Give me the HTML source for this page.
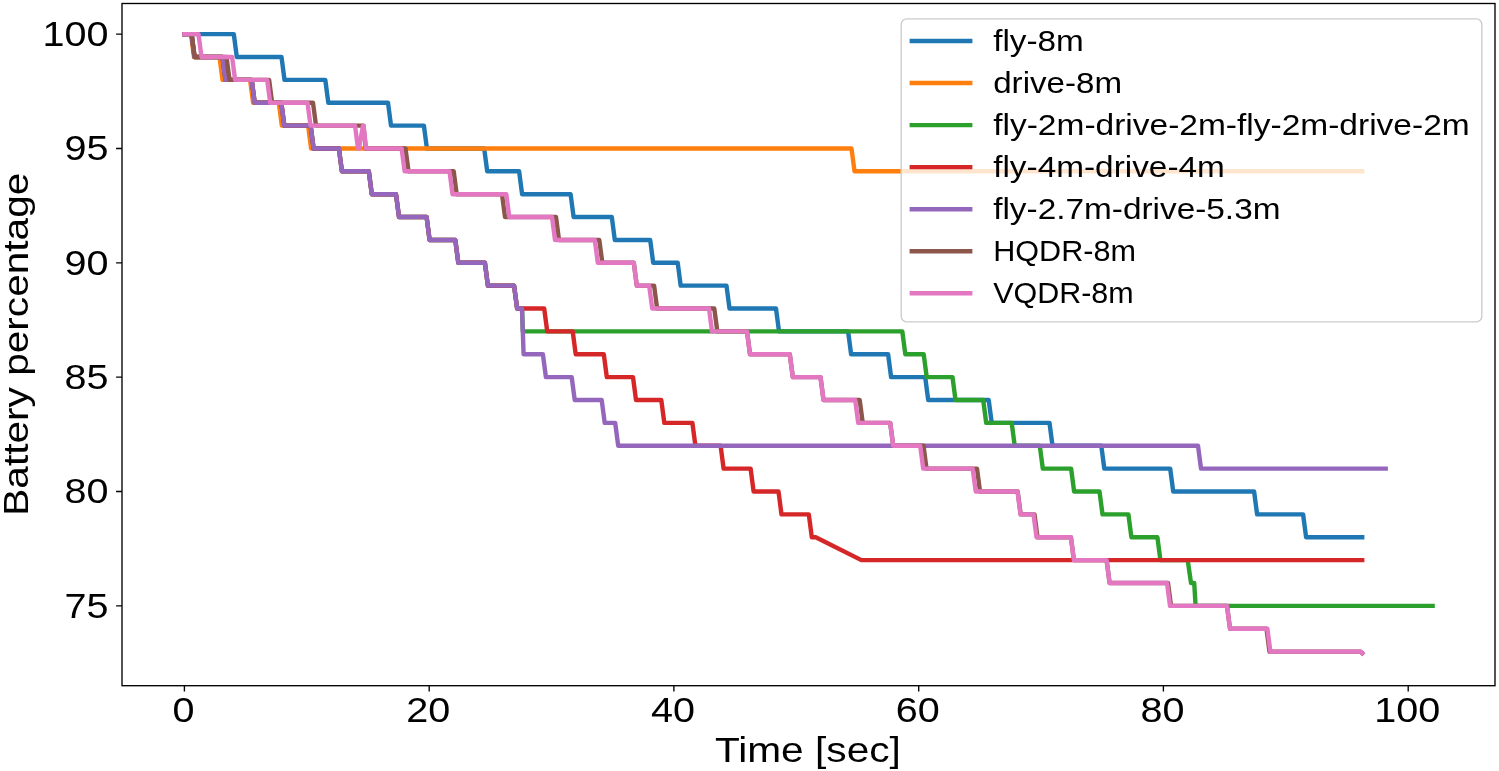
<!DOCTYPE html>
<html><head><meta charset="utf-8"><title>Battery percentage vs time</title>
<style>
html,body{margin:0;padding:0;background:#fff;}
body{width:1499px;height:771px;overflow:hidden;}
svg{display:block;will-change:transform;}
text{font-family:"Liberation Sans",sans-serif;fill:#000;}
</style></head><body>
<svg width="1499" height="771" viewBox="0 0 1499 771">
<defs><clipPath id="ax"><rect x="122.0" y="3.5" width="1373.0" height="682.2"/></clipPath></defs>
<rect x="0" y="0" width="1499" height="771" fill="#fff"/>
<g clip-path="url(#ax)" fill="none" stroke-width="4.40" stroke-linejoin="round" stroke-linecap="square">
<polyline stroke="#1f77b4" points="184.4,34.10 233.8,34.10 236.8,56.97 281.5,56.97 284.5,79.84 325.3,79.84 328.3,102.71 388.0,102.71 391.0,125.58 423.9,125.58 426.9,148.45 484.2,148.45 487.2,171.32 519.1,171.32 522.1,194.19 570.6,194.19 573.6,217.06 611.8,217.06 614.8,239.93 650.2,239.93 653.2,262.80 677.7,262.80 680.7,285.67 726.5,285.67 729.5,308.54 776.0,308.54 779.0,331.41 848.1,331.41 851.1,354.28 888.1,354.28 891.1,377.15 925.2,377.15 928.2,400.02 988.7,400.02 991.7,422.89 1049.5,422.89 1052.5,445.76 1101.3,445.76 1104.3,468.63 1170.2,468.63 1173.2,491.50 1254.1,491.50 1257.1,514.37 1303.1,514.37 1306.1,537.24 1362.2,537.24"/>
<polyline stroke="#ff7f0e" points="184.4,34.10 191.0,34.10 194.0,56.97 219.5,56.97 222.5,79.84 250.1,79.84 253.1,102.71 278.8,102.71 281.8,125.58 308.1,125.58 311.1,148.45 851.5,148.45 854.5,171.32 1362.2,171.32"/>
<polyline stroke="#2ca02c" points="184.4,34.10 191.5,34.10 194.5,56.97 222.5,56.97 225.5,79.84 251.7,79.84 254.7,102.71 281.3,102.71 284.3,125.58 310.6,125.58 313.6,148.45 338.9,148.45 341.9,171.32 368.8,171.32 371.8,194.19 396.0,194.19 399.0,217.06 426.6,217.06 429.6,239.93 455.3,239.93 458.3,262.80 484.9,262.80 487.9,285.67 514.1,285.67 517.1,308.54 522.0,308.54 522.8,331.41 902.3,331.41 905.3,354.28 923.7,354.28 926.7,377.15 952.5,377.15 955.5,400.02 983.2,400.02 986.2,422.89 1011.7,422.89 1014.7,445.76 1039.8,445.76 1042.8,468.63 1071.1,468.63 1074.1,491.50 1099.5,491.50 1102.5,514.37 1128.4,514.37 1131.4,537.24 1157.4,537.24 1160.4,560.11 1187.7,560.11 1191.0,582.98 1194.2,582.98 1195.6,605.85 1432.6,605.85"/>
<polyline stroke="#d62728" points="184.4,34.10 191.5,34.10 194.5,56.97 222.5,56.97 225.5,79.84 251.7,79.84 254.7,102.71 281.3,102.71 284.3,125.58 310.6,125.58 313.6,148.45 338.9,148.45 341.9,171.32 368.8,171.32 371.8,194.19 396.0,194.19 399.0,217.06 426.6,217.06 429.6,239.93 455.3,239.93 458.3,262.80 484.9,262.80 487.9,285.67 514.1,285.67 517.1,308.54 544.2,308.54 547.2,331.41 572.7,331.41 575.7,354.28 603.8,354.28 606.8,377.15 633.0,377.15 636.0,400.02 661.3,400.02 664.3,422.89 692.4,422.89 695.4,445.76 720.6,445.76 723.6,468.63 750.6,468.63 753.6,491.50 778.5,491.50 781.5,514.37 808.8,514.37 811.8,537.24 815.7,537.24 861.4,560.11 1362.2,560.11"/>
<polyline stroke="#9467bd" points="184.4,34.10 191.5,34.10 194.5,56.97 222.5,56.97 225.5,79.84 251.7,79.84 254.7,102.71 281.3,102.71 284.3,125.58 310.6,125.58 313.6,148.45 338.9,148.45 341.9,171.32 368.8,171.32 371.8,194.19 396.0,194.19 399.0,217.06 426.6,217.06 429.6,239.93 455.3,239.93 458.3,262.80 484.9,262.80 487.9,285.67 514.1,285.67 517.1,308.54 522.0,308.54 523.6,354.28 542.9,354.28 545.9,377.15 571.7,377.15 574.7,400.02 601.7,400.02 604.7,422.89 615.2,422.89 618.2,445.76 1198.0,445.76 1201.0,468.63 1385.7,468.63"/>
<polyline stroke="#8c564b" points="184.4,34.10 191.7,34.10 194.7,56.97 226.5,56.97 229.5,79.84 269.1,79.84 272.1,102.71 313.0,102.71 316.0,125.58 363.4,125.58 365.8,148.45 405.5,148.45 408.5,171.32 453.7,171.32 456.7,194.19 502.0,194.19 505.0,217.06 556.0,217.06 559.0,239.93 599.3,239.93 602.3,262.80 633.8,262.80 636.8,285.67 654.1,285.67 657.1,308.54 714.3,308.54 717.3,331.41 747.0,331.41 750.0,354.28 789.8,354.28 792.8,377.15 820.5,377.15 823.5,400.02 859.7,400.02 862.7,422.89 890.2,422.89 893.2,445.76 923.5,445.76 926.5,468.63 977.0,468.63 980.0,491.50 1017.7,491.50 1020.7,514.37 1034.5,514.37 1037.5,537.24 1070.9,537.24 1073.9,560.11 1106.6,560.11 1109.6,582.98 1168.0,582.98 1171.0,605.85 1227.0,605.85 1230.0,628.72 1266.5,628.72 1269.5,651.59 1360.6,651.59 1362.2,653.19"/>
<polyline stroke="#e377c2" points="184.4,34.10 198.5,34.10 201.5,56.97 232.1,56.97 235.1,79.84 267.2,79.84 270.2,102.71 307.5,102.71 310.5,125.58 355.0,125.58 358.0,148.45 359.0,148.45 363.0,125.58 363.6,125.58 366.0,148.45 401.6,148.45 404.6,171.32 449.5,171.32 452.5,194.19 506.3,194.19 509.3,217.06 552.0,217.06 555.0,239.93 594.8,239.93 597.8,262.80 633.8,262.80 636.8,285.67 649.2,285.67 652.2,308.54 709.0,308.54 712.0,331.41 747.0,331.41 750.0,354.28 789.8,354.28 792.8,377.15 820.5,377.15 823.5,400.02 855.2,400.02 858.2,422.89 890.2,422.89 893.2,445.76 920.2,445.76 923.2,468.63 972.7,468.63 975.7,491.50 1017.5,491.50 1020.5,514.37 1033.5,514.37 1036.5,537.24 1070.9,537.24 1073.9,560.11 1106.6,560.11 1109.6,582.98 1167.0,582.98 1170.0,605.85 1227.0,605.85 1230.0,628.72 1267.4,628.72 1270.4,651.59 1360.6,651.59 1362.2,653.19"/>
</g>
<rect x="122.00" y="3.50" width="1373.00" height="682.20" fill="none" stroke="#000" stroke-width="1.35"/>
<path d="M184.40 685.70V691.60M429.20 685.70V691.60M673.90 685.70V691.60M918.70 685.70V691.60M1163.40 685.70V691.60M1408.20 685.70V691.60M122.00 34.10H116.10M122.00 148.45H116.10M122.00 262.80H116.10M122.00 377.15H116.10M122.00 491.50H116.10M122.00 605.85H116.10" stroke="#000" stroke-width="1.35" fill="none"/>
<text x="183.40" y="722.4" font-size="35.8" text-anchor="middle" textLength="22.0" lengthAdjust="spacingAndGlyphs">0</text>
<text x="428.20" y="722.4" font-size="35.8" text-anchor="middle" textLength="44.0" lengthAdjust="spacingAndGlyphs">20</text>
<text x="672.90" y="722.4" font-size="35.8" text-anchor="middle" textLength="44.0" lengthAdjust="spacingAndGlyphs">40</text>
<text x="917.70" y="722.4" font-size="35.8" text-anchor="middle" textLength="44.0" lengthAdjust="spacingAndGlyphs">60</text>
<text x="1162.40" y="722.4" font-size="35.8" text-anchor="middle" textLength="44.0" lengthAdjust="spacingAndGlyphs">80</text>
<text x="1407.20" y="722.4" font-size="35.8" text-anchor="middle" textLength="66.0" lengthAdjust="spacingAndGlyphs">100</text>
<text x="108.60" y="46.00" font-size="35.8" text-anchor="end" textLength="66.0" lengthAdjust="spacingAndGlyphs">100</text>
<text x="108.60" y="160.35" font-size="35.8" text-anchor="end" textLength="44.0" lengthAdjust="spacingAndGlyphs">95</text>
<text x="108.60" y="274.70" font-size="35.8" text-anchor="end" textLength="44.0" lengthAdjust="spacingAndGlyphs">90</text>
<text x="108.60" y="389.05" font-size="35.8" text-anchor="end" textLength="44.0" lengthAdjust="spacingAndGlyphs">85</text>
<text x="108.60" y="503.40" font-size="35.8" text-anchor="end" textLength="44.0" lengthAdjust="spacingAndGlyphs">80</text>
<text x="108.60" y="617.75" font-size="35.8" text-anchor="end" textLength="44.0" lengthAdjust="spacingAndGlyphs">75</text>
<text x="807.9" y="762.3" font-size="35.8" text-anchor="middle" textLength="186" lengthAdjust="spacingAndGlyphs">Time [sec]</text>
<text transform="translate(27.5,344.2) rotate(-90)" x="0" y="0" font-size="35.8" text-anchor="middle" textLength="343" lengthAdjust="spacingAndGlyphs">Battery percentage</text>
<rect x="901.20" y="18.80" width="580.60" height="303.00" rx="5.5" ry="5.5" fill="#fff" fill-opacity="0.8" stroke="#cccccc" stroke-width="1.35"/>
<line x1="911.8" y1="41.00" x2="970.2" y2="41.00" stroke="#1f77b4" stroke-width="4.40" stroke-linecap="square"/>
<text x="993.2" y="51.00" font-size="29.6" textLength="90.6" lengthAdjust="spacingAndGlyphs">fly-8m</text>
<line x1="911.8" y1="83.05" x2="970.2" y2="83.05" stroke="#ff7f0e" stroke-width="4.40" stroke-linecap="square"/>
<text x="993.2" y="93.05" font-size="29.6" textLength="128.8" lengthAdjust="spacingAndGlyphs">drive-8m</text>
<line x1="911.8" y1="125.10" x2="970.2" y2="125.10" stroke="#2ca02c" stroke-width="4.40" stroke-linecap="square"/>
<text x="993.2" y="135.10" font-size="29.6" textLength="476.5" lengthAdjust="spacingAndGlyphs">fly-2m-drive-2m-fly-2m-drive-2m</text>
<line x1="911.8" y1="167.15" x2="970.2" y2="167.15" stroke="#d62728" stroke-width="4.40" stroke-linecap="square"/>
<text x="993.2" y="177.15" font-size="29.6" textLength="231.7" lengthAdjust="spacingAndGlyphs">fly-4m-drive-4m</text>
<line x1="911.8" y1="209.20" x2="970.2" y2="209.20" stroke="#9467bd" stroke-width="4.40" stroke-linecap="square"/>
<text x="993.2" y="219.20" font-size="29.6" textLength="287.3" lengthAdjust="spacingAndGlyphs">fly-2.7m-drive-5.3m</text>
<line x1="911.8" y1="251.25" x2="970.2" y2="251.25" stroke="#8c564b" stroke-width="4.40" stroke-linecap="square"/>
<text x="993.2" y="261.25" font-size="29.6" textLength="142.7" lengthAdjust="spacingAndGlyphs">HQDR-8m</text>
<line x1="911.8" y1="293.30" x2="970.2" y2="293.30" stroke="#e377c2" stroke-width="4.40" stroke-linecap="square"/>
<text x="993.2" y="303.30" font-size="29.6" textLength="140.5" lengthAdjust="spacingAndGlyphs">VQDR-8m</text>
</svg>
</body></html>
